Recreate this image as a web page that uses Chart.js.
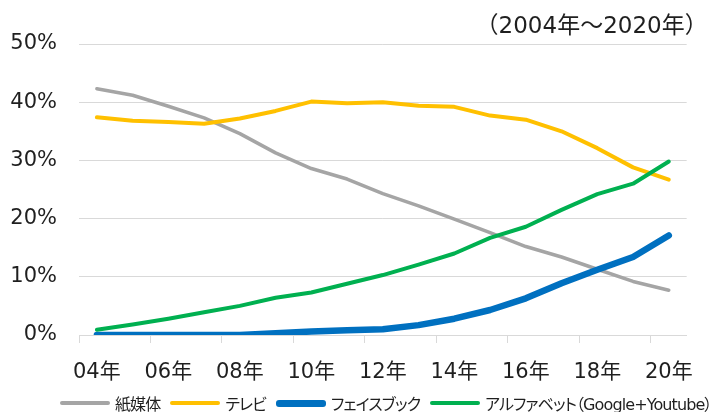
<!DOCTYPE html>
<html>
<head>
<meta charset="utf-8">
<script src="https://cdn.jsdelivr.net/npm/chart.js@4"></script>
<style>
  html, body { margin: 0; padding: 0; background: #fff; }
  #wrap { position: relative; width: 710px; height: 412px; }
  #legend {
    position: absolute; left: 60px; top: 393px; height: 20px; width: max-content;
    display: flex; align-items: center; white-space: nowrap;
    font: 16px 'DejaVu Sans', 'Noto Sans CJK JP', sans-serif;
    font-feature-settings: "palt"; letter-spacing: -0.9px; color: #1f1f1f;
  }
  #legend .item { display: flex; align-items: center; margin-right: 10px; flex: none; }
  #legend .swatch { width: 50px; border-radius: 3px; margin-right: 5px; }
</style>
</head>
<body>
<div id="wrap">
  <canvas id="chart" width="710" height="412"></canvas>
  <div id="legend"></div>
</div>
<script>
// yearly points 2004-2020, only every other year labelled
const years = ["04年", "05年", "06年", "07年", "08年", "09年", "10年", "11年", "12年",
  "13年", "14年", "15年", "16年", "17年", "18年", "19年", "20年"];
const paper = [42.3, 41.2, 39.3, 37.3, 34.6, 31.3, 28.6, 26.8, 24.3, 22.2, 19.9, 17.6, 15.2, 13.4, 11.3, 9.2, 7.7];
const tv = [37.4, 36.8, 36.6, 36.3, 37.2, 38.5, 40.1, 39.8, 40.0, 39.4, 39.2, 37.7, 37.0, 35.0, 32.1, 28.8, 26.7];
const facebook = [0, 0, 0, 0, 0, 0.3, 0.6, 0.8, 1.0, 1.7, 2.8, 4.3, 6.3, 8.9, 11.2, 13.4, 17.1];
const alphabet = [0.9, 1.8, 2.8, 3.9, 5.0, 6.4, 7.3, 8.8, 10.3, 12.1, 14.0, 16.7, 18.6, 21.5, 24.2, 26.0, 29.8];
const yTicks = [0, 10, 20, 30, 40, 50];
const periodNote = "（2004年～2020年）";

const textColor = "#1f1f1f";
const gridColor = "#d9d9d9";
Chart.defaults.font.family = "'DejaVu Sans', 'Noto Sans CJK JP', sans-serif";
Chart.defaults.color = textColor;

const periodLabel = {
  id: "periodLabel",
  afterDraw(chart) {
    const ctx = chart.ctx;
    ctx.save();
    ctx.font = "23px 'DejaVu Sans', 'Noto Sans CJK JP', sans-serif";
    ctx.fillStyle = textColor;
    ctx.textAlign = "right";
    ctx.textBaseline = "middle";
    ctx.fillText(periodNote, chart.chartArea.right + 21, 27);
    ctx.restore();
  }
};

function series(label, data, color, width, order) {
  return {
    label, data, order,
    borderColor: color, backgroundColor: color,
    borderWidth: width, pointRadius: 0, tension: 0,
    borderCapStyle: "round", borderJoinStyle: "round"
  };
}

const chart = new Chart(document.getElementById("chart"), {
  type: "line",
  data: {
    labels: years,
    datasets: [
      series("紙媒体", paper, "#a5a5a5", 3.5, 4),
      series("テレビ", tv, "#ffc000", 4, 3),
      series("フェイスブック", facebook, "#0070c0", 6.5, 2),
      series("アルファベット（Google+Youtube）", alphabet, "#00b050", 4, 1)
    ]
  },
  options: {
    responsive: false,
    animation: false,
    layout: { padding: { top: 44, right: 12, left: 0, bottom: 0 } },
    plugins: { legend: { display: false }, tooltip: { enabled: false } },
    scales: {
      x: {
        offset: true,
        grid: {
          offset: true,
          drawOnChartArea: false,
          tickLength: 8,
          color: c => (c.index % 2 === 0 ? gridColor : "rgba(0,0,0,0)")
        },
        border: { color: gridColor },
        ticks: {
          autoSkip: false, maxRotation: 0, padding: 17,
          font: { size: 21 },
          callback: (v, i) => (i % 2 === 0 ? years[i] : "")
        },
        afterFit: s => { s.height = 77; }
      },
      y: {
        min: 0, max: 50,
        grid: { color: gridColor, drawTicks: false },
        border: { display: false },
        afterBuildTicks: s => { s.ticks = yTicks.map(v => ({ value: v })); },
        ticks: { padding: 22, font: { size: 21 }, callback: v => v + "%" },
        afterFit: s => { s.width = 79; }
      }
    }
  },
  plugins: [periodLabel]
});

// html legend so kana can use proportional widths
const legendEl = document.getElementById("legend");
chart.data.datasets.forEach(ds => {
  const item = document.createElement("div");
  item.className = "item";
  const sw = document.createElement("span");
  sw.className = "swatch";
  sw.style.background = ds.borderColor;
  sw.style.height = Math.round(ds.borderWidth) + "px";
  const txt = document.createElement("span");
  txt.textContent = ds.label;
  item.appendChild(sw);
  item.appendChild(txt);
  legendEl.appendChild(item);
});
</script>
</body>
</html>
